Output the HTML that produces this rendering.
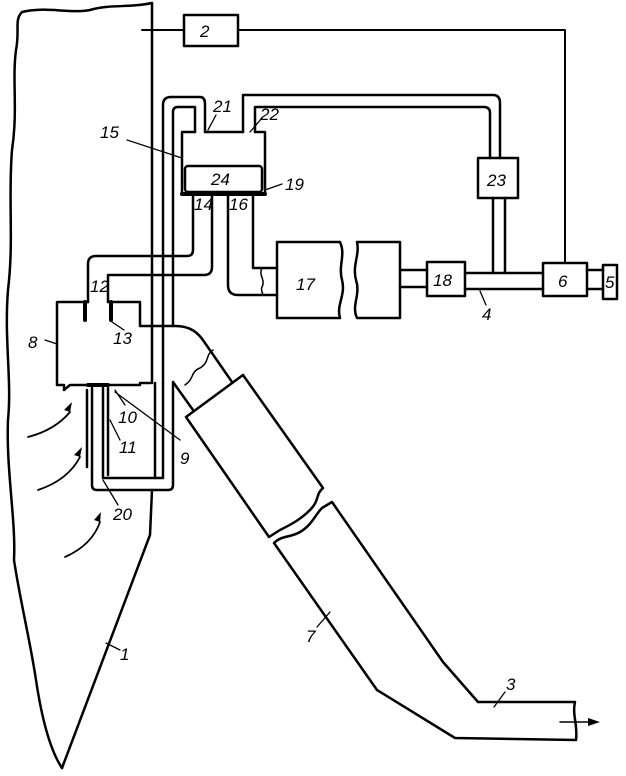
<!DOCTYPE html>
<html><head><style>
html,body{margin:0;padding:0;background:#fff;}
svg{display:block;}
text{font-family:"Liberation Sans",sans-serif;font-style:italic;font-size:17px;fill:#000;}
</style></head><body>
<svg width="626" height="776" viewBox="0 0 626 776" xmlns="http://www.w3.org/2000/svg">
<g fill="none" stroke="#000" stroke-width="2.5" stroke-linejoin="round" stroke-linecap="round">
<!-- wall 1 -->
<path d="M152,3 C130,8 110,4 90,10 C70,14 45,6 22,12 C14,20 20,30 16,50 C12,80 18,110 12,150 C8,200 14,240 8,290 C4,340 12,380 8,420 C6,470 16,520 14,560 C20,600 30,640 36,680 C42,720 50,750 62,768"/>
<path d="M152,3 L152,383 M152,490 L150,535 L62,768"/>
<!-- box 2 and line -->
<rect x="184" y="15" width="54" height="31"/>
<path d="M142,30 L184,30 M238,30 L565,30 L565,263" stroke-width="2"/>
<!-- pipes left loop -->
<path d="M163,383 L163,105 Q163,97 171,97 L200,97 Q205,97 205,104 L205,132"/>
<path d="M173,326 L173,112 Q173,107 178,107 L195,107 L195,132"/>
<!-- box 15 -->
<path d="M195,132 L182,132 L182,194 L265,194 L265,132 L255,132"/>
<path d="M205,132 L243,132"/>
<path d="M243,132 L243,95 L493,95 Q500,95 500,103 L500,158"/>
<path d="M255,132 L255,107 L484,107 Q490,107 490,113 L490,158"/>
<rect x="185" y="166" width="77" height="26" rx="3"/>
<path d="M182,194 L265,194" stroke-width="4"/>
<!-- 23 -->
<rect x="478" y="158" width="40" height="40"/>
<path d="M493,198 L493,273 M505,198 L505,273"/>
<!-- pipe 12/14 -->
<path d="M88,302 L88,264 Q88,256 96,256 L187,256 Q193,256 193,250 L193,194"/>
<path d="M108,302 L108,275 L204,275 Q212,275 212,267 L212,194"/>
<!-- pipe 16 -->
<path d="M228,194 L228,285 Q228,295 238,295 L277,295"/>
<path d="M253,194 L253,268 L277,268"/>
<path d="M262,268 C258,275 266,280 262,287 C260,291 264,293 262,295" stroke-width="1.5"/>
<!-- 17 and cut box -->
<path d="M340,242 L277,242 L277,318 L340,318 C336,305 346,295 342,280 C338,265 346,255 340,242"/>
<path d="M357,242 L400,242 L400,318 L357,318 C351,305 361,295 356,280 C352,265 360,255 357,242"/>
<!-- pipes to 18, 6 -->
<path d="M400,270 L427,270 M400,287 L427,287"/>
<rect x="427" y="262" width="38" height="34"/>
<path d="M465,273 L543,273 M465,289 L543,289"/>
<rect x="543" y="263" width="44" height="33"/>
<path d="M587,270 L603,270 M587,289 L603,289"/>
<rect x="603" y="265" width="14" height="34"/>
<!-- box 8 -->
<path d="M88,302 L57,302 L57,385 L64,385 L64,390 L70,385 L140,385"/>
<path d="M108,302 L140,302 L140,326 L175,326 C190,326 198,332 205,343 L232,382"/>
<path d="M140,383 L150,383"/>
<path d="M85,302 L85,320 M111,302 L111,320" stroke-width="4"/>
<path d="M88,385 L108,385" stroke-width="4"/>
<!-- U tube 20 and rods -->
<path d="M87,390 L87,467 M108,388 L108,475"/>
<path d="M92,388 L92,485 Q92,490 97,490 L168,490 Q173,490 173,485 L173,383"/>
<path d="M103,388 L103,478 L163,478 L163,383"/>
<path d="M155,383 L155,478"/>
<!-- neck -->
<path d="M173,382 L193,410"/>
<path d="M185,385 C195,378 190,372 200,368 C210,362 205,355 213,350" stroke-width="1.5"/>
<!-- duct 7 -->
<path d="M186,417 L243,375 L323,488 C315,495 320,500 310,510 C300,520 290,525 280,530 L269,537 Z"/>
<path d="M274,543 C282,535 290,538 300,532 C312,525 315,515 322,508 L332,502 L443,662 L478,702 L575,702 C572,715 578,725 576,740 L455,738 L377,690 Z"/>
<!-- arrows flow -->
<path d="M28,437 Q55,430 70,412" stroke-width="1.8"/>
<path d="M38,490 Q68,480 80,457" stroke-width="1.8"/>
<path d="M65,557 Q92,545 100,522" stroke-width="1.8"/>
<path d="M560,722 L592,722" stroke-width="1.5"/>
<!-- leaders -->
<g stroke-width="1.3">
<path d="M127,140 L182,158"/><path d="M265,190 L282,184"/>
<path d="M208,130 L216,115"/><path d="M250,132 L262,118"/>
<path d="M115,390 L125,405"/><path d="M115,392 L180,440"/>
<path d="M110,420 L120,440"/><path d="M103,480 L118,505"/>
<path d="M112,322 L124,330"/><path d="M45,340 L57,344"/>
<path d="M480,291 L486,305"/><path d="M317,627 L330,612"/>
<path d="M494,707 L505,692"/><path d="M106,643 L120,650"/>
</g>
</g>
<path d="M70,412 L72,402 L64,410 Z M80,457 L82,447 L74,455 Z M100,522 L101,512 L94,520 Z M600,722 L588,718 L588,726 Z" fill="#000"/>
<text x="200" y="37">2</text>
<text x="100" y="138">15</text>
<text x="213" y="112">21</text>
<text x="260" y="120">22</text>
<text x="211" y="185">24</text>
<text x="285" y="190">19</text>
<text x="194" y="210">14</text>
<text x="229" y="210">16</text>
<text x="487" y="186">23</text>
<text x="296" y="290">17</text>
<text x="433" y="286">18</text>
<text x="558" y="287">6</text>
<text x="605" y="288">5</text>
<text x="482" y="320">4</text>
<text x="90" y="292">12</text>
<text x="113" y="344">13</text>
<text x="28" y="348">8</text>
<text x="118" y="423">10</text>
<text x="119" y="453">11</text>
<text x="180" y="464">9</text>
<text x="113" y="520">20</text>
<text x="120" y="660">1</text>
<text x="306" y="642">7</text>
<text x="506" y="690">3</text>
</svg>
</body></html>
